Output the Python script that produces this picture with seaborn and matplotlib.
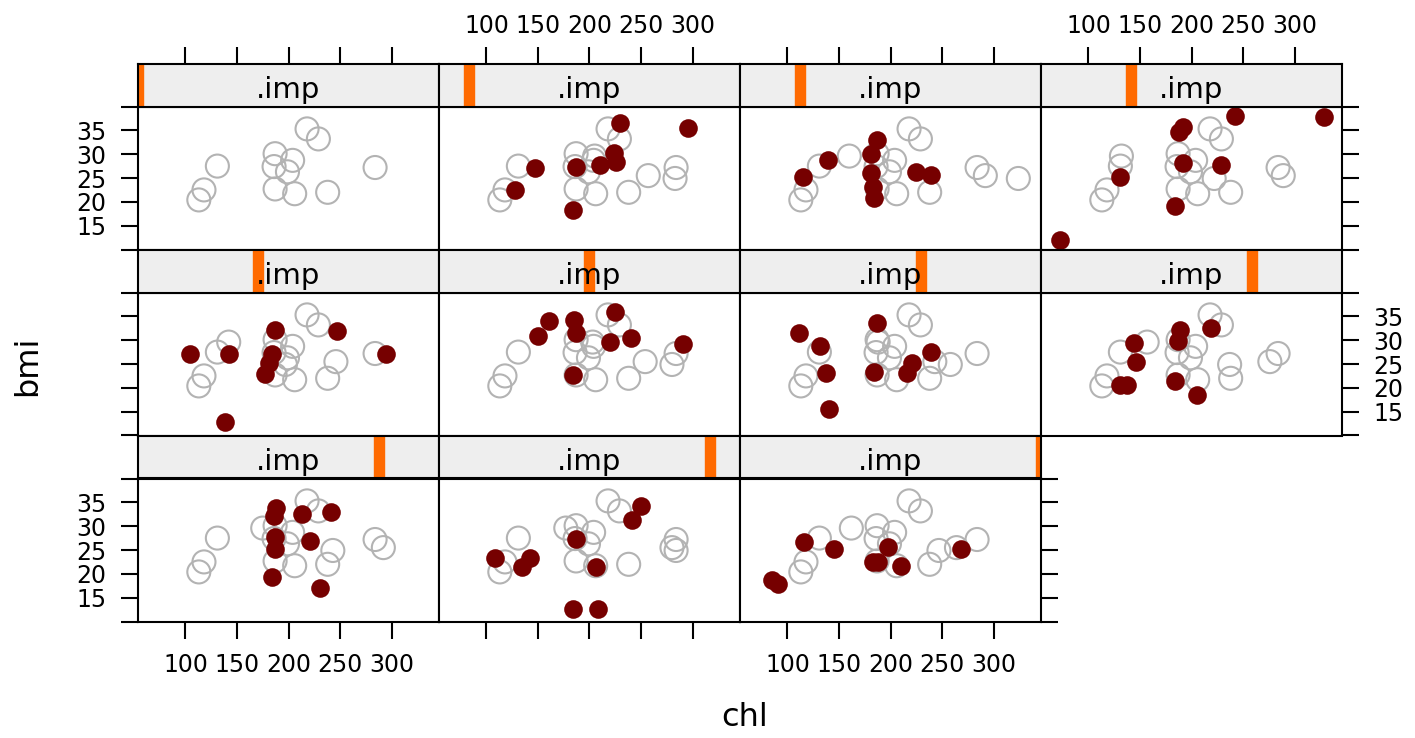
import numpy as np
import pandas as pd
import matplotlib.pyplot as plt
import seaborn as sns
from matplotlib.patches import Rectangle

# complete cases (bmi and chl both observed)
obs_chl = [187, 113, 118, 187, 238, 206, 204, 284, 199, 218, 229, 131, 186]
obs_bmi = [22.7, 20.4, 22.5, 30.1, 22.0, 21.7, 28.7, 27.2, 26.3, 35.3, 33.2, 27.5, 27.4]

# bmi observed, chl imputed (one list per imputation 1..10)
part_bmi = [29.6, 25.5, 24.9]
part_chl = [
    [205, 257, 283],
    [160, 292, 324],
    [132, 289, 222],
    [142, 246, 197],
    [203, 254, 280],
    [188, 243, 258],
    [157, 276, 237],
    [175, 292, 243],
    [177, 280, 284],
    [162, 264, 247],
]

# imputed bmi values (with chl observed or imputed), imputation 1..10
imp_chl = [
    [147, 128, 184, 187, 210, 224, 226, 230, 296],
    [115, 139, 187, 181, 181, 183, 184, 225, 239],
    [72, 131, 184, 192, 188, 192, 229, 242, 329],
    [104, 142, 138, 187, 184, 181, 177, 247, 295],
    [150, 161, 185, 187, 184, 220, 225, 240, 291],
    [111, 132, 137, 140, 187, 184, 216, 221, 239],
    [144, 146, 131, 137, 189, 187, 184, 205, 219],
    [188, 186, 187, 187, 184, 213, 241, 221, 231],
    [108, 142, 135, 184, 208, 187, 206, 250, 241],
    [85, 91, 116, 145, 198, 183, 188, 210, 268],
]
imp_bmi = [
    [27.2, 22.4, 18.2, 27.3, 27.7, 30.3, 28.3, 36.5, 35.4],
    [25.3, 28.7, 33.0, 30.0, 26.0, 23.1, 20.8, 26.2, 25.6],
    [11.9, 25.3, 19.2, 28.1, 34.6, 35.6, 27.7, 38.1, 37.7],
    [27.0, 27.0, 12.8, 32.1, 27.0, 25.3, 23.0, 31.9, 27.0],
    [30.9, 34.0, 34.2, 31.6, 22.6, 29.6, 36.0, 30.5, 29.1],
    [31.4, 28.7, 23.1, 15.6, 33.5, 23.4, 23.2, 25.3, 27.6],
    [29.4, 25.4, 20.6, 20.6, 32.1, 29.8, 21.4, 18.4, 32.5],
    [33.9, 32.1, 27.7, 25.3, 19.4, 32.5, 33.0, 26.8, 17.1],
    [23.3, 23.3, 21.4, 12.6, 12.6, 27.4, 21.4, 34.2, 31.2],
    [18.7, 17.8, 26.6, 25.2, 25.6, 22.5, 22.5, 21.7, 25.2],
]

n_imp = 10
xticks = [100, 150, 200, 250, 300]
yticks = [10, 15, 20, 25, 30, 35, 40]
ylabels = ["", "15", "20", "25", "30", "35", ""]
XLIM = (54, 346)
YLIM = (10, 40)

# long data frame
frames = []
for k in range(n_imp + 1):
    frames.append(pd.DataFrame({".imp": k, "chl": obs_chl, "bmi": obs_bmi, "kind": "obs"}))
    if k > 0:
        frames.append(pd.DataFrame({".imp": k, "chl": part_chl[k - 1], "bmi": part_bmi, "kind": "obs"}))
        frames.append(pd.DataFrame({".imp": k, "chl": imp_chl[k - 1], "bmi": imp_bmi[k - 1], "kind": "imp"}))
df = pd.concat(frames, ignore_index=True)

sns.set_style("white")
plt.rcParams["font.family"] = ["DejaVu Sans"]
plt.rcParams["text.color"] = "black"
plt.rcParams["xtick.color"] = "black"
plt.rcParams["ytick.color"] = "black"

W, H = 1415, 738
fig = plt.figure(figsize=(W / 100, H / 100), dpi=100)

col_x = [138, 439, 740, 1041]
pw = 301
strip_h = 43
panel_h = 143
row_top = [63.5, 249.5, 435.5]
fs = 17      # tick labels
fs_strip = 21
lw = 1.5
tlen = 12.5

for k in range(n_imp + 1):
    r, c = divmod(k, 4)
    x0 = col_x[c]
    s_top = row_top[r]
    p_top = s_top + strip_h

    ax = fig.add_axes([x0 / W, 1 - (p_top + panel_h) / H, pw / W, panel_h / H])
    sax = fig.add_axes([x0 / W, 1 - p_top / H, pw / W, strip_h / H])

    sub = df[df[".imp"] == k]
    sns.scatterplot(data=sub[sub["kind"] == "obs"], x="chl", y="bmi", ax=ax,
                    s=275, facecolors="none", edgecolor="#B3B3B3", linewidth=1.5)
    sns.scatterplot(data=sub[sub["kind"] == "imp"], x="chl", y="bmi", ax=ax,
                    s=180, color="#760000", linewidth=0)
    ax.set_xlim(XLIM)
    ax.set_ylim(YLIM)
    ax.set_xlabel("")
    ax.set_ylabel("")
    ax.set_xticks(xticks)
    ax.set_yticks(yticks)
    ax.set_yticklabels(ylabels)

    last_row = k >= n_imp + 1 - 3
    ax.tick_params(axis="x", direction="out", length=tlen, width=lw, labelsize=fs,
                   top=False, labeltop=False,
                   bottom=last_row, labelbottom=last_row and c in (0, 2), pad=10)
    right_side = (c == 3) or (k == n_imp)
    ax.tick_params(axis="y", direction="out", length=tlen, width=lw, labelsize=fs,
                   left=(c == 0), labelleft=(c == 0 and r != 1),
                   right=right_side, labelright=(right_side and r == 1), pad=10)
    for sp in ax.spines.values():
        sp.set_color("black")
        sp.set_linewidth(lw)

    # strip
    sax.set_facecolor("#EEEEEE")
    sax.set_xlim(XLIM)
    sax.set_yticks([])
    sax.set_xticks(xticks)
    sax.tick_params(axis="x", direction="out", length=tlen, width=lw, labelsize=fs,
                    bottom=False, labelbottom=False,
                    top=(r == 0), labeltop=(r == 0 and c in (1, 3)), pad=6)
    bw = 10 / pw
    sax.add_patch(Rectangle((k / n_imp - bw / 2, 0), bw, 1, transform=sax.transAxes,
                            color="#FF6A00", zorder=1))
    sax.text(0.5, 0.2, ".imp", transform=sax.transAxes, ha="center", va="baseline",
             fontsize=fs_strip, zorder=3)
    for sp in sax.spines.values():
        sp.set_color("black")
        sp.set_linewidth(lw)
        sp.set_zorder(4)

fig.text(28 / W, 1 - 366 / H, "bmi", rotation=90, ha="center", va="center", fontsize=23)
fig.text(745 / W, 1 - 718 / H, "chl", ha="center", va="center", fontsize=23)

fig.savefig("out.png", dpi=100)
